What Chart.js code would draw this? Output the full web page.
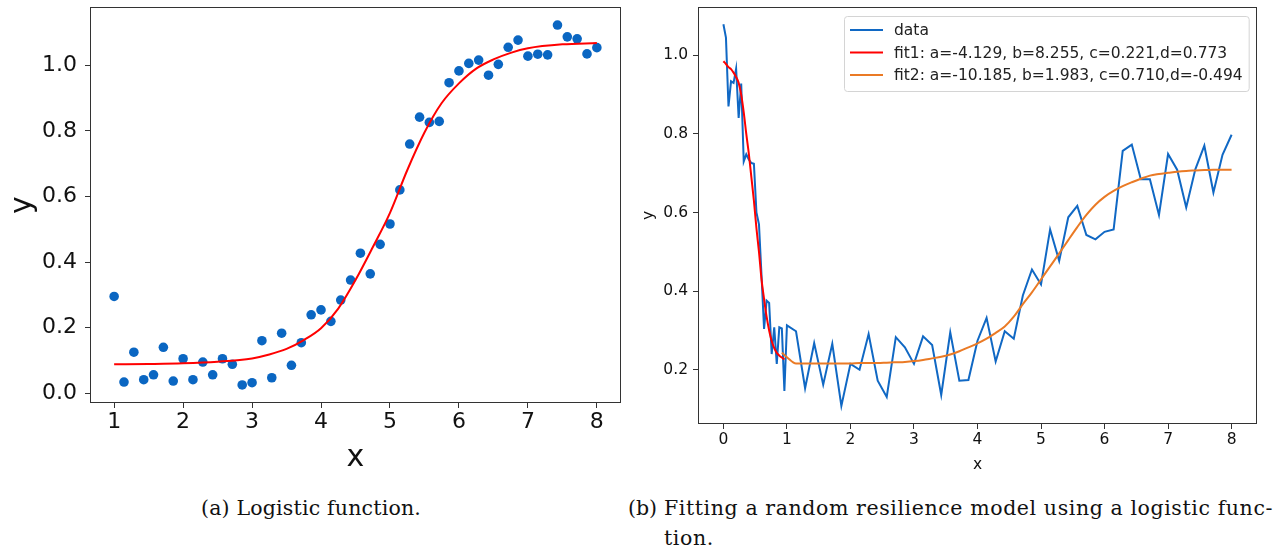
<!DOCTYPE html>
<html>
<head>
<meta charset="utf-8">
<script src="https://cdn.jsdelivr.net/npm/chart.js@4.4.0/dist/chart.umd.min.js"></script>
<style>
  body { margin: 0; width: 1288px; height: 553px; background: #fff; position: relative; overflow: hidden; }
  .wrap { position: absolute; top: 0; }
  #wrapA { left: 0; width: 640px; height: 480px; }
  #wrapB { left: 640px; width: 648px; height: 480px; }
  .cap { position: absolute; font-family: "DejaVu Serif", serif; font-size: 20.5px; line-height: 24px; color: #111; white-space: nowrap; }
  #capA { left: 201px; top: 496px; }
  #capB1 { left: 628px; top: 496px; }
  #capB2 { left: 664px; top: 496px; }
  #capB3 { left: 664px; top: 526px; }
</style>
</head>
<body>
<div class="wrap" id="wrapA"><canvas id="chartA" width="640" height="480"></canvas></div>
<div class="wrap" id="wrapB"><canvas id="chartB" width="648" height="480"></canvas></div>
<div class="cap" id="capA" data-w="220">(a) Logistic function.</div>
<div class="cap" id="capB1">(b)</div>
<div class="cap" id="capB2" data-w="609">Fitting a random resilience model using a logistic func-</div>
<div class="cap" id="capB3" data-ls="capB2">tion.</div>
<script>
// ---- (a) logistic function ----
var xA = [1, 1.143, 1.286, 1.429, 1.571, 1.714, 1.857, 2, 2.143, 2.286,
          2.429, 2.571, 2.714, 2.857, 3, 3.143, 3.286, 3.429, 3.571, 3.714,
          3.857, 4, 4.143, 4.286, 4.429, 4.571, 4.714, 4.857, 5, 5.143,
          5.286, 5.429, 5.571, 5.714, 5.857, 6, 6.143, 6.286, 6.429, 6.571,
          6.714, 6.857, 7, 7.143, 7.286, 7.429, 7.571, 7.714, 7.857, 8]
var yA = [0.295, 0.034, 0.125, 0.041, 0.056, 0.140, 0.037, 0.105, 0.041, 0.095,
          0.056, 0.105, 0.088, 0.025, 0.032, 0.160, 0.047, 0.183, 0.085, 0.154,
          0.239, 0.254, 0.219, 0.284, 0.345, 0.427, 0.364, 0.454, 0.516, 0.620,
          0.760, 0.842, 0.826, 0.829, 0.947, 0.983, 1.006, 1.016, 0.970, 1.003,
          1.055, 1.077, 1.028, 1.034, 1.032, 1.123, 1.087, 1.081, 1.035, 1.054]
var fitXA = [1, 1.5, 2, 2.5, 3, 3.25, 3.5, 3.75, 4, 4.25, 4.5, 4.75, 5, 5.25,
             5.5, 5.75, 6, 6.25, 6.5, 6.75, 7, 7.5, 8]
var fitYA = [0.088, 0.089, 0.091, 0.096, 0.106, 0.118, 0.135, 0.162, 0.198, 0.258,
             0.345, 0.445, 0.550, 0.680, 0.795, 0.885, 0.945, 0.990, 1.018, 1.038,
             1.052, 1.064, 1.068]
var xTicksA = [1, 2, 3, 4, 5, 6, 7, 8]
var yTicksA = [0, 0.2, 0.4, 0.6, 0.8, 1.0]

// ---- (b) random resilience model ----
var xB = [0, 0.04, 0.08, 0.12, 0.16, 0.2, 0.24, 0.28, 0.32, 0.36,
          0.4, 0.44, 0.48, 0.52, 0.56, 0.6, 0.64, 0.68, 0.72, 0.76,
          0.8, 0.84, 0.88, 0.92, 0.96,
          1, 1.143, 1.286, 1.429, 1.571, 1.714, 1.857, 2, 2.143, 2.286,
          2.429, 2.571, 2.714, 2.857, 3, 3.143, 3.286, 3.429, 3.571, 3.714,
          3.857, 4, 4.143, 4.286, 4.429, 4.571, 4.714, 4.857, 5, 5.143,
          5.286, 5.429, 5.571, 5.714, 5.857, 6, 6.143, 6.286, 6.429, 6.571,
          6.714, 6.857, 7, 7.143, 7.286, 7.429, 7.571, 7.714, 7.857, 8]
var yB = [1.079, 1.045, 0.870, 0.934, 0.930, 0.966, 0.841, 0.928, 0.730, 0.748,
          0.735, 0.726, 0.724, 0.600, 0.570, 0.440, 0.304, 0.376, 0.370, 0.240,
          0.308, 0.215, 0.308, 0.305, 0.146,
          0.313, 0.298, 0.153, 0.268, 0.162, 0.266, 0.108, 0.215, 0.200, 0.291,
          0.172, 0.131, 0.283, 0.257, 0.215, 0.285, 0.263, 0.136, 0.295, 0.172,
          0.174, 0.274, 0.332, 0.221, 0.298, 0.279, 0.389, 0.455, 0.417, 0.557,
          0.477, 0.588, 0.617, 0.543, 0.532, 0.551, 0.557, 0.757, 0.773, 0.685,
          0.685, 0.594, 0.749, 0.709, 0.613, 0.710, 0.770, 0.651, 0.747, 0.798]
var fit1X = xB.slice(0, 25)
var fit1Y = [0.985, 0.978, 0.970, 0.965, 0.956, 0.945, 0.930, 0.900, 0.855, 0.800,
             0.750, 0.690, 0.630, 0.560, 0.500, 0.430, 0.380, 0.335, 0.300, 0.273,
             0.255, 0.243, 0.236, 0.231, 0.226]
var fit2X = [0.92, 1].concat(xB.slice(26))
var fit2Y = [0.243, 0.232,
             0.216, 0.216, 0.216, 0.216, 0.216, 0.216, 0.216, 0.217, 0.217,
             0.217, 0.218, 0.219, 0.220, 0.222, 0.225, 0.229, 0.233, 0.239, 0.247,
             0.257, 0.267, 0.279, 0.294, 0.310, 0.335, 0.367, 0.397, 0.430, 0.463,
             0.496, 0.530, 0.563, 0.594, 0.620, 0.640, 0.655, 0.667, 0.677, 0.686,
             0.694, 0.698, 0.701, 0.704, 0.706, 0.707, 0.708, 0.709, 0.709, 0.709]
var xTicksB = [0, 1, 2, 3, 4, 5, 6, 7, 8]
var yTicksB = [0.2, 0.4, 0.6, 0.8, 1.0]
var legendB = ['data', 'fit1: a=-4.129, b=8.255, c=0.221,d=0.773', 'fit2: a=-10.185, b=1.983, c=0.710,d=-0.494']

function pts(xs, ys) {
    return xs.map(function (x, i) { return { x: x, y: ys[i] } })
}
function fixTicks(vals) {
    return function (scale) { scale.ticks = vals.map(function (v) { return { value: v } }) }
}

// box around the plot area, like matplotlib spines
var frame = {
    id: 'frame',
    afterDatasetsDraw: function (chart) {
        var a = chart.chartArea, c = chart.ctx
        c.save()
        c.strokeStyle = '#333'
        c.lineWidth = 1
        c.strokeRect(Math.round(a.left) + 0.5, Math.round(a.top) + 0.5,
                     Math.round(a.right - a.left) - 1, Math.round(a.bottom - a.top) - 1)
        c.restore()
    }
}

var legendBox = {
    id: 'legendBox',
    afterDraw: function (chart) {
        var a = chart.chartArea, c = chart.ctx
        c.save()
        c.font = '15.5px "DejaVu Sans"'
        var tw = Math.max.apply(null, legendB.map(function (t) { return c.measureText(t).width }))
        var w = tw + 56, h = 75
        var x0 = Math.round(a.right - 8 - w), y0 = Math.round(a.top + 9)
        c.fillStyle = 'rgba(255,255,255,0.85)'
        c.strokeStyle = '#d4d4d4'
        c.lineWidth = 1
        c.beginPath()
        c.roundRect(x0 + 0.5, y0 + 0.5, w, h, 3)
        c.fill()
        c.stroke()
        chart.data.datasets.forEach(function (ds, i) {
            var y = y0 + 14 + i * 22.5
            c.strokeStyle = ds.borderColor
            c.lineWidth = 2
            c.beginPath()
            c.moveTo(x0 + 6, y)
            c.lineTo(x0 + 39, y)
            c.stroke()
            c.fillStyle = '#222'
            c.textBaseline = 'middle'
            c.fillText(legendB[i], x0 + 50, y + 1)
        })
        c.restore()
    }
}

function axis(o) {
    return {
        type: 'linear',
        min: o.min,
        max: o.max,
        afterBuildTicks: fixTicks(o.ticks),
        afterFit: function (s) {
            // fixed axis size and no extra room for overhanging labels
            if (o.h) s.height = o.h
            if (o.w) s.width = o.w
            s.paddingTop = 0; s.paddingBottom = 0; s.paddingLeft = 0; s.paddingRight = 0
        },
        grid: { drawOnChartArea: false, drawTicks: true, tickLength: 5, color: '#333' },
        border: { display: false },
        ticks: {
            autoSkip: false, maxRotation: 0, padding: o.pad, color: '#111',
            font: { family: 'DejaVu Sans', size: o.size },
            callback: o.fmt
        },
        title: {
            display: true, text: o.title, color: '#111',
            font: { family: 'DejaVu Sans', size: o.tsize },
            padding: o.tpad
        }
    }
}

//-------------
//- CHART (a) -
//-------------
new Chart(document.getElementById('chartA').getContext('2d'), {
    type: 'scatter',
    data: {
        datasets: [
            {
                type: 'line',
                data: pts(fitXA, fitYA),
                borderColor: '#ff0000',
                borderWidth: 2,
                pointRadius: 0,
                cubicInterpolationMode: 'monotone',
                order: 0
            },
            {
                data: pts(xA, yA),
                backgroundColor: '#0a66c2',
                borderWidth: 0,
                pointRadius: 4.8,
                order: 1
            }
        ]
    },
    options: {
        responsive: false,
        animation: false,
        devicePixelRatio: 1,
        layout: { padding: { top: 7, right: 19, left: 0, bottom: 0 } },
        plugins: { legend: { display: false }, tooltip: { enabled: false } },
        scales: {
            x: axis({ min: 0.65, max: 8.35, ticks: xTicksA, pad: 1, size: 22, title: 'x', tsize: 30,
                      tpad: { top: 0, bottom: 4 }, fmt: function (v) { return String(v) }, h: 77 }),
            y: axis({ min: -0.03, max: 1.178, ticks: yTicksA, pad: 8, size: 22, title: 'y', tsize: 30,
                      tpad: { top: 5, bottom: 0 }, fmt: function (v) { return v.toFixed(1) }, w: 90 })
        }
    },
    plugins: [frame]
})

//-------------
//- CHART (b) -
//-------------
new Chart(document.getElementById('chartB').getContext('2d'), {
    type: 'line',
    data: {
        datasets: [
            { data: pts(xB, yB), borderColor: '#1068c4', borderWidth: 2, pointRadius: 0, order: 2 },
            { data: pts(fit1X, fit1Y), borderColor: '#ff0000', borderWidth: 2, pointRadius: 0,
              cubicInterpolationMode: 'monotone', order: 1 },
            { data: pts(fit2X, fit2Y), borderColor: '#ea7a25', borderWidth: 2, pointRadius: 0,
              cubicInterpolationMode: 'monotone', order: 0 }
        ]
    },
    options: {
        responsive: false,
        animation: false,
        devicePixelRatio: 1,
        layout: { padding: { top: 7, right: 31, left: 0, bottom: 0 } },
        plugins: { legend: { display: false }, tooltip: { enabled: false } },
        scales: {
            x: axis({ min: -0.4, max: 8.4, ticks: xTicksB, pad: 2, size: 15.5, title: 'x', tsize: 15.5,
                      tpad: { top: 0, bottom: 6 }, fmt: function (v) { return String(v) }, h: 56 }),
            y: axis({ min: 0.062, max: 1.123, ticks: yTicksB, pad: 5, size: 15.5, title: 'y', tsize: 15.5,
                      tpad: { top: 0, bottom: 0 }, fmt: function (v) { return v.toFixed(1) }, w: 58 })
        }
    },
    plugins: [frame, legendBox]
})

// stretch caption lines to the printed width with letter spacing
var spacing = {}
document.querySelectorAll('.cap[data-w]').forEach(function (el) {
    var n = el.textContent.length
    var ls = (Number(el.dataset.w) - el.getBoundingClientRect().width) / n
    el.style.letterSpacing = ls + 'px'
    spacing[el.id] = ls
})
document.querySelectorAll('.cap[data-ls]').forEach(function (el) {
    el.style.letterSpacing = spacing[el.dataset.ls] + 'px'
})
</script>
</body>
</html>
